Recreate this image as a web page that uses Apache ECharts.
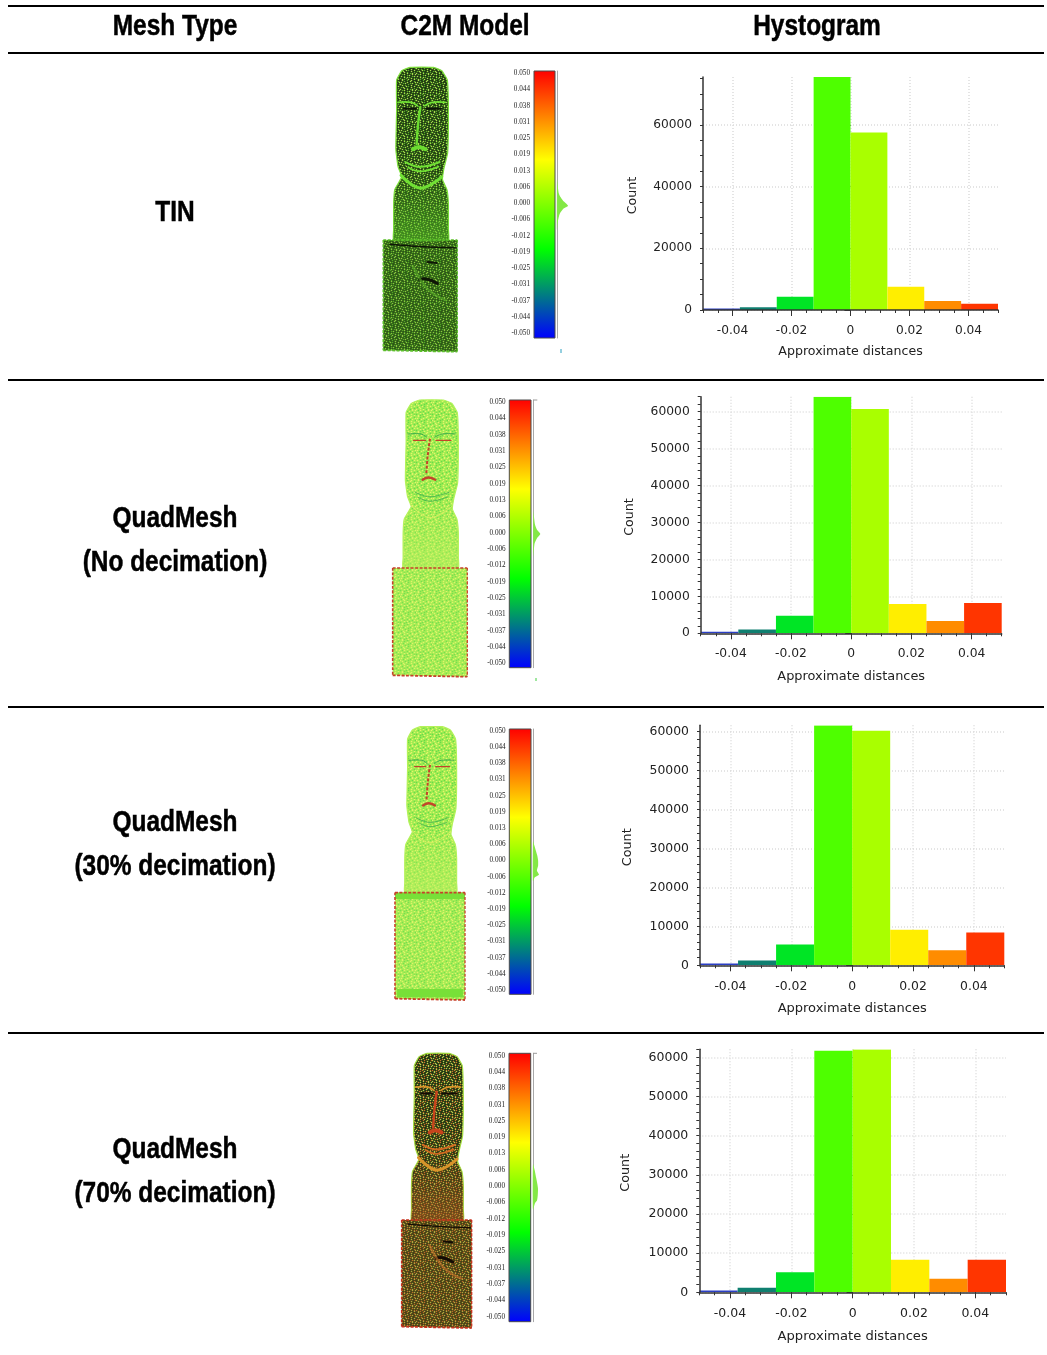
<!DOCTYPE html>
<html>
<head>
<meta charset="utf-8">
<style>html,body{margin:0;padding:0;background:#fff}#c{position:absolute;left:0;top:0;width:1047px;height:1355px}</style>
<script src="https://cdn.jsdelivr.net/npm/echarts@6/dist/echarts.min.js"></script>
</head>
<body>
<div id="c"></div>
<script>
// ---- chart data ----
const headers = ['Mesh Type', 'C2M Model', 'Hystogram'];
const meshLabels = [['TIN'], ['QuadMesh', '(No decimation)'], ['QuadMesh', '(30% decimation)'], ['QuadMesh', '(70% decimation)']];
const binEdges = [-0.05, -0.0375, -0.025, -0.0125, 0, 0.0125, 0.025, 0.0375, 0.05];
const binColors = ['#2b3fc4', '#0f7f70', '#00e525', '#4eff00', '#a9ff00', '#ffee00', '#ff8c00', '#ff3500'];
const countsTIN = [480, 860, 4300, 75500, 57500, 7560, 2900, 2050];
const countsNoDec = [450, 1000, 4770, 64000, 60700, 7900, 3300, 8200];
const counts30 = [430, 1200, 5370, 61550, 60200, 9120, 3840, 8440];
const counts70 = [430, 1190, 5100, 61700, 62000, 8340, 3490, 8340];
const xTickLabels = [-0.04, -0.02, 0, 0.02, 0.04];
const yTicksTIN = [0, 20000, 40000, 60000];
const yTicksQuad = [0, 10000, 20000, 30000, 40000, 50000, 60000];
const scaleTickValues = [0.05, 0.04375, 0.0375, 0.03125, 0.025, 0.01875, 0.0125, 0.00625, 0, -0.00625, -0.0125, -0.01875, -0.025, -0.03125, -0.0375, -0.04375, -0.05];
const scaleTickLabels = ['0.050', '0.044', '0.038', '0.031', '0.025', '0.019', '0.013', '0.006', '0.000', '-0.006', '-0.012', '-0.019', '-0.025', '-0.031', '-0.037', '-0.044', '-0.050'];
const scaleColors = ['#ff0000', '#ffff00', '#00ff00', '#0000ff'];
const bumpTIN = [[0.0095,0],[0.007,.06],[0.004,.15],[0.0025,.3],[0.001,.55],[-0.0009,1],[-0.002,.6],[-0.004,.25],[-0.007,.08],[-0.0105,0]];
const bumpNoDec = [[0.0085,0],[0.006,.1],[0.003,.25],[0.001,.55],[-0.0005,1],[-0.002,.55],[-0.004,.2],[-0.0065,.08],[-0.009,0]];
const bump30 = [[0.0075,0],[0.006,.2],[0.004,.45],[0.002,.7],[0,.85],[-0.002,.85],[-0.004,.65],[-0.0055,1],[-0.0065,.3],[-0.008,0]];
const bump70 = [[0.0085,0],[0.006,.35],[0.003,.65],[0.001,.85],[-0.001,1],[-0.0035,.95],[-0.0055,.8],[-0.0065,.4],[-0.009,0]];

// ---- layout ----
const ruleYs = [6, 53, 380, 707, 1033];
const headerXs = [175, 465, 817];
const rows = [
  {labelY:[213], counts:countsTIN, yTicks:yTicksTIN, yMinor:5000, hist:{l:703,r:998,t:77,b:310,max:75500,fs:12.2,nameFs:12.6,countFs:12.6,nameGap:64,xName:35},
   bump:bumpTIN, bar:{l:534,r:555,t:71,b:338,first:73.3,last:333.3,line:557,amp:11,labelRight:530},
   statue:{l:383.3,r:457.3,t:67.3,b:351.7}, look:'dark', mark:[561,349,561,353,'#2aa0c0'], topTick:false},
  {labelY:[519,563], counts:countsNoDec, yTicks:yTicksQuad, yMinor:2000, hist:{l:700.7,r:1001.7,t:396.7,b:633.3,max:64000,fs:12.3,nameFs:12.9,countFs:12.6,nameGap:64,xName:37},
   bump:bumpNoDec, bar:{l:509.3,r:531,t:400,b:667.7,first:402,last:663.3,line:533.3,amp:7,labelRight:505.7},
   statue:{l:392.7,r:467.3,t:400,b:676.7}, look:'light', mark:[536,678,536,681,'#40d040'], topTick:true},
  {labelY:[823,867], counts:counts30, yTicks:yTicksQuad, yMinor:2000, hist:{l:700,r:1004.3,t:725.3,b:965.3,max:61600,fs:12.4,nameFs:13,countFs:12.8,nameGap:66,xName:37},
   bump:bump30, bar:{l:509.3,r:531,t:729,b:994.3,first:731,last:990,line:533,amp:6,labelRight:505.7},
   statue:{l:395,r:465,t:726.7,b:1000}, look:'light2', topTick:false},
  {labelY:[1150,1194], counts:counts70, yTicks:yTicksQuad, yMinor:2000, hist:{l:699.3,r:1006,t:1049.3,b:1292.3,max:62040,fs:12.5,nameFs:13.1,countFs:12.8,nameGap:67,xName:38},
   bump:bump70, bar:{l:509,r:530.7,t:1053.3,b:1321.7,first:1055.7,last:1316.7,line:533,amp:5,labelRight:505},
   statue:{l:401.7,r:471.7,t:1053.3,b:1328}, look:'warm', topTick:true}
];

// ---- statue artwork (decoration, not data), outline in percent of its frame ----
const outline = [[36,0],[68,0],[79,1.2],[86.5,4.5],[88,15],[87,30],[82,35.5],[80,39.5],[86,43],[88,48],[88,57],[88,61],[14,61],[14,57],[14,48],[15.5,43],[24.8,38.5],[20,35],[17,29],[18,15],[18,4.5],[25,1.2]];
const basePoly = [[0,60.7],[100,60.7],[100,100],[0,99.5]];
const speckle = [
"..a....b...a....","....b.....a...b.",".a.....a.......a","...b.a....b.a...",
"a.......b......b","..a..b.....a....","......a.b.....a.",".b.a.......a....",
"....a..b......b.","a......a..b.a...","..b.a.......a..a",".......b.a......",
".a..b.......b.a.","....a..a.b......","b.....b....a..b.","..a.b...a.....a."];
const lightLook = {bg:'#9dec50',a:'#e6f46c',b:'#66da4a',edge:'#b4f25a',wash:'#bdf060',washBase:'#c4f066',feat:'#c2452a',featB:'#3aa84c',chin:'#d4ee60',mouth:'#4fb850',ledge:null,hole:null,baseEdge:'#c8402a'};
const looks = {
  dark:{bg:'#1c3510',a:'#a9e050',b:'#58ac28',edge:'#7fe03c',wash:'#58c028',washBase:'#4b9c22',feat:'#6bdc30',featB:'#70e034',chin:'#70e034',mouth:'#70e034',hole:'#0e1606',baseEdge:'#5cc02a'},
  light:lightLook,
  light2:Object.assign({}, lightLook, {band:'#78e038'}),
  warm:{bg:'#1a3210',a:'#c0cc50',b:'#c8742c',edge:'#a5e040',wash:'#a8561e',washBase:'#9a5a1e',feat:'#c8441c',featB:'#d8942a',chin:'#d8942a',mouth:'#d06a20',hole:'#140c04',baseEdge:'#c8301c'}
};
function tile(look) {
  const cv = document.createElement('canvas');
  cv.width = cv.height = 16;
  const ctx = cv.getContext('2d');
  ctx.fillStyle = look.bg; ctx.fillRect(0, 0, 16, 16);
  speckle.forEach((line, y) => [...line].forEach((ch, x) => {
    if (ch === '.') return;
    ctx.fillStyle = ch === 'a' ? look.a : look.b;
    ctx.beginPath(); ctx.arc(x + .5, y + .5, .8, 0, 6.3); ctx.fill();
  }));
  return cv;
}
function statueElements(row) {
  const f = row.statue, look = looks[row.look];
  const P = pts => pts.map(p => [f.l + (f.r - f.l) * p[0] / 100, f.t + (f.b - f.t) * p[1] / 100]);
  const alpha = (c, a) => c + a;
  const fillT = {image: tile(look), repeat: 'repeat'};
  const line = (pts, color, width, extra) => ({type:'polyline', z:10, shape:{points:P(pts), smooth:0.4}, style:Object.assign({stroke:color, lineWidth:width, fill:null, lineCap:'round'}, extra||{})});
  const band = (pts, color) => ({type:'polygon', z:9, shape:{points:P(pts)}, style:{fill:color}});
  const washHead = new echarts.graphic.LinearGradient(0, 0, 0, 1, [{offset:0,color:alpha(look.wash,'00')},{offset:.6,color:alpha(look.wash,'10')},{offset:1,color:alpha(look.wash,'a0')}]);
  const dash = {lineDash:[3,1.5], lineCap:'butt'};
  const isLight = !look.hole;
  const out = [
    {type:'polygon', z:8, shape:{points:P(outline), smooth:0.12}, style:{fill:fillT, stroke:look.edge, lineWidth:1.2}},
    {type:'polygon', z:9, shape:{points:P(outline), smooth:0.12}, style:{fill:washHead}},
    {type:'polygon', z:8, shape:{points:P(basePoly)}, style:{fill:fillT}},
    band(basePoly, alpha(look.washBase, isLight ? '30' : '55')),
    // eyes and brows
    line([[20,12.3],[38,12.3],[46,13.5]], look.featB, isLight?1:1.8), line([[56,13.5],[66,12.3],[84,12.3]], look.featB, isLight?1:1.8),
    line([[28,14.6],[44,14.6]], look.hole || look.feat, isLight?1.2:2), line([[58,14.6],[78,14.6]], look.hole || look.feat, isLight?1.2:2),
    // nose
    line([[50,14],[47,20],[45,27]], look.feat, isLight?2:2.4, isLight?dash:{}),
    line([[40,28.8],[48,28],[57,28.8]], look.feat, isLight?2.4:4),
    // mouth and chin
    line([[30,33.3],[50,35],[76,33.3]], look.mouth, isLight?1:2), line([[34,35.2],[50,36.6],[74,35]], look.mouth, isLight?1:1.8),
    line([[24,38],[50,42.5],[79,38.5]], look.chin, isLight?1:3)
  ];
  if (look.band) {
    out.push(band([[0,60.7],[100,60.7],[100,63],[0,63]], look.band));
    out.push(band([[3,96],[97,96],[97,99],[3,99]], look.band));
  }
  if (!isLight) {
    out.push(line([[9,62.2],[50,63],[98,63.5]], look.hole, 1.4));
    out.push(line([[60,68.5],[72,68.8]], look.hole, 2), line([[49,74.5],[60,74.5],[73,76]], look.hole, 3));
    out.push(line([[40,70],[60,78],[85,82]], look.b, 2.4, {opacity:.6}));
  }
  out.push(
    line([[0,60.7],[100,60.7]], look.baseEdge, 1.6, dash),
    line([[0,60.7],[0,99.5]], look.baseEdge, 1.6, dash),
    line([[100,60.7],[100,100]], look.baseEdge, 1.3, dash),
    line([[0,99.5],[100,100]], look.baseEdge, 1.8, dash)
  );
  return out;
}

// ---- chart ----
const chart = echarts.init(document.getElementById('c'), null, {renderer:'canvas'});
const TXT = '#222', AXIS = '#333';
const textFont = '"DejaVu Sans", sans-serif';
const grid = [], xAxis = [], yAxis = [], series = [], graphic = [];
const step = (from, to, d) => { const a = []; for (let i = 0; from + i * d <= to + d * 1e-6; i++) a.push(+(from + i * d).toFixed(6)); return a; };

function addHistogram(row) {
  const h = row.hist, g = grid.length;
  grid.push({left:h.l, top:h.t, width:h.r-h.l, height:h.b-h.t});
  const xi = xAxis.length, yi = yAxis.length;
  const split = {show:true, lineStyle:{color:'#dcdcdc', type:[1,2], width:1.5}};
  xAxis.push({type:'value', gridIndex:g, position:'bottom', min:-0.05, max:0.05, z:0,
    axisLine:{show:false}, axisTick:{show:true, length:6, customValues:xTickLabels, lineStyle:{color:AXIS}},
    splitLine:split,
    axisLabel:{show:true, customValues:xTickLabels, formatter:v=>String(v), color:TXT, fontFamily:textFont, fontSize:h.fs, margin:15},
    name:'Approximate distances', nameLocation:'middle', nameGap:h.xName, nameTextStyle:{color:TXT, fontFamily:textFont, fontSize:h.nameFs}});
  xAxis.push({type:'value', gridIndex:g, position:'bottom', min:-0.05, max:0.05, z:5,
    axisLine:{show:true, onZero:false, lineStyle:{color:AXIS, width:1.5}},
    axisTick:{show:true, length:3, customValues:step(-0.05,0.05,0.005), lineStyle:{color:AXIS}},
    axisLabel:{show:false}, splitLine:{show:false}});
  yAxis.push({type:'value', gridIndex:g, position:'left', min:0, max:h.max, z:0,
    axisLine:{show:false}, axisTick:{show:true, length:6, customValues:row.yTicks, lineStyle:{color:AXIS}},
    splitLine:split,
    axisLabel:{show:true, customValues:row.yTicks, formatter:v=>String(v), color:TXT, fontFamily:textFont, fontSize:h.fs, margin:11, padding:[4,0,0,0]},
    name:'Count', nameLocation:'middle', nameGap:h.nameGap, nameRotate:90, nameTextStyle:{color:TXT, fontFamily:textFont, fontSize:h.countFs, padding:[0,4,0,0]}});
  yAxis.push({type:'value', gridIndex:g, position:'left', offset:0, min:0, max:h.max, z:5,
    axisLine:{show:true, onZero:false, lineStyle:{color:AXIS, width:1.5}},
    axisTick:{show:true, length:3, customValues:step(0,h.max,row.yMinor), lineStyle:{color:AXIS}},
    axisLabel:{show:false}, splitLine:{show:false}});
  series.push({type:'custom', coordinateSystem:'cartesian2d', xAxisIndex:xi, yAxisIndex:yi, clip:true, z:2,
    data:row.counts.map((c,i)=>[binEdges[i],binEdges[i+1],c]),
    encode:{x:[0,1], y:2},
    renderItem:(params, api)=>{
      const a = api.coord([api.value(0), api.value(2)]), b = api.coord([api.value(1), 0]);
      return {type:'rect', shape:{x:a[0], y:a[1], width:b[0]-a[0], height:b[1]-a[1]}, style:{fill:binColors[params.dataIndex]}};
    }});
  // empty series keeps the overlay axes active
  series.push({type:'line', xAxisIndex:xi+1, yAxisIndex:yi+1, data:[], silent:true});
}

function addScale(row) {
  const s = row.bar, ppu = (s.last - s.first) / 0.1;
  const yMax = 0.05 + (s.first - s.t) / ppu, yMin = -0.05 - (s.b - s.last) / ppu;
  // colour bar
  let g = grid.length;
  grid.push({left:s.l, top:s.t, width:s.r-s.l, height:s.b-s.t});
  let xi = xAxis.length, yi = yAxis.length;
  xAxis.push({type:'value', gridIndex:g, min:0, max:1, show:false});
  yAxis.push({type:'value', gridIndex:g, min:yMin, max:yMax, position:'left',
    axisLine:{show:false}, axisTick:{show:false, customValues:scaleTickValues}, splitLine:{show:false},
    axisLabel:{show:true, customValues:scaleTickValues, margin:s.l-s.labelRight,
      formatter:v=>scaleTickLabels[scaleTickValues.indexOf(v)], color:'#222', fontFamily:'"Liberation Serif", serif', fontSize:7.2}});
  const stops = scaleColors.map((c,i)=>({offset:i/(scaleColors.length-1), color:c}));
  series.push({type:'custom', coordinateSystem:'cartesian2d', xAxisIndex:xi, yAxisIndex:yi, clip:false,
    data:[[0,1,yMin,yMax]], encode:{x:[0,1], y:[2,3]},
    renderItem:(params, api)=>{
      const a = api.coord([api.value(0), api.value(3)]), b = api.coord([api.value(1), api.value(2)]);
      return {type:'rect', shape:{x:a[0], y:a[1], width:b[0]-a[0], height:b[1]-a[1]},
        style:{fill:new echarts.graphic.LinearGradient(0,0,0,1,stops), stroke:'#4a4a4a', lineWidth:1}};
    }});
  // distribution curve beside the bar
  g = grid.length;
  grid.push({left:s.line, top:s.t, width:s.amp, height:s.b-s.t});
  xi = xAxis.length; yi = yAxis.length;
  xAxis.push({type:'value', gridIndex:g, min:0, max:1, show:false});
  yAxis.push({type:'value', gridIndex:g, min:yMin, max:yMax, position:'left',
    axisLine:{show:true, onZero:false, lineStyle:{color:'#a8a8a8', width:1}}, axisTick:{show:false}, axisLabel:{show:false}, splitLine:{show:false}});
  series.push({type:'custom', coordinateSystem:'cartesian2d', xAxisIndex:xi, yAxisIndex:yi, clip:false,
    data:row.bump, encode:{x:1, y:0},
    renderItem:(params, api)=>{
      if (params.dataIndex !== 0) return null;
      const pts = row.bump.map(p=>api.coord([p[1], p[0]]));
      return {type:'polygon', shape:{points:pts, smooth:0.2}, style:{fill:'#84e846'}};
    }});
}

rows.forEach(row => {
  addHistogram(row);
  addScale(row);
  graphic.push(...statueElements(row));
  if (row.mark) graphic.push({type:'line', z:10, shape:{x1:row.mark[0],y1:row.mark[1],x2:row.mark[2],y2:row.mark[3]}, style:{stroke:row.mark[4],lineWidth:1}});
  if (row.topTick) graphic.push({type:'line', z:10, shape:{x1:row.bar.line,y1:row.bar.t,x2:row.bar.line+4,y2:row.bar.t}, style:{stroke:'#9a9a9a',lineWidth:1}});
});

// table rules and text
const headFont = '"Liberation Sans", sans-serif';
const T = (txt, x, y) => ({type:'text', z:20, x, y, scaleX:0.815, style:{text:txt, fill:'#000', stroke:'#000', lineWidth:0.5, font:'bold 30px '+headFont, align:'center', verticalAlign:'middle'}});
ruleYs.forEach(y => graphic.push({type:'line', z:20, shape:{x1:8,y1:y,x2:1044,y2:y}, style:{stroke:'#000',lineWidth:2}}));
headers.forEach((h,i) => graphic.push(T(h, headerXs[i], 27)));
rows.forEach((row,i) => meshLabels[i].forEach((t,j) => graphic.push(T(t, 175, row.labelY[j]))));

chart.setOption({animation:false, backgroundColor:'#fff', grid, xAxis, yAxis, series, graphic});
</script>
</body>
</html>
